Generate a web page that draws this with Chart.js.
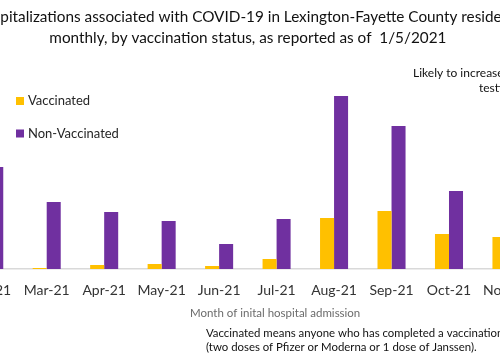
<!DOCTYPE html>
<html><head><meta charset="utf-8">
<script src="https://cdn.jsdelivr.net/npm/chart.js@4.4.1/dist/chart.umd.min.js"></script>
<style>
html,body{margin:0;padding:0;width:500px;height:355px;overflow:hidden;background:#fff;}
#wrap{position:absolute;left:-40px;top:0;width:576px;height:355px;}
</style></head><body>
<div id="wrap"><canvas id="c" width="576" height="355"></canvas></div>
<script>
// ---- data ----
const months = ['Feb-21','Mar-21','Apr-21','May-21','Jun-21','Jul-21','Aug-21','Sep-21','Oct-21','Nov-21'];
const vaccinated    = [null, 1, 4, 5, 3, 10, 51, 58, 35, 32];
const nonVaccinated = [102, 67, 57, 48, 25, 50, 173, 143, 78, null];
const seriesNames = ['Vaccinated', 'Non-Vaccinated'];
const titleLines = ['Hospitalizations associated with COVID-19 in Lexington-Fayette County residents',
                    'monthly, by vaccination status, as reported as of  1/5/2021'];
const axisTitle = 'Month of inital hospital admission';
const noteLines = ['Vaccinated means anyone who has completed a vaccination series',
                   '(two doses of Pfizer or Moderna or 1 dose of Janssen).'];
const annotationLines = ['Likely to increase due to delayed', 'testing and reporting'];

const FONT = 'Lato, "Open Sans", sans-serif';
const OFF = 40; // canvas is shifted 40px to the left of the page

const overlay = {
  id: 'overlay',
  afterDraw(chart) {
    const ctx = chart.ctx;
    ctx.save();
    // legend (vertical, inside plot)
    chart.data.datasets.forEach((ds, i) => {
      const y = 97 + i * 32.5;
      ctx.fillStyle = ds.backgroundColor;
      ctx.fillRect(16 + OFF, y, 8, 8);
      ctx.fillStyle = '#262626';
      ctx.font = '13px ' + FONT;
      ctx.textBaseline = 'middle';
      ctx.textAlign = 'left';
      ctx.fillText(ds.label, 28 + OFF, y + 4);
    });
    // axis title
    ctx.fillStyle = '#6b6b6b';
    ctx.font = '11.5px ' + FONT;
    ctx.textBaseline = 'alphabetic';
    ctx.textAlign = 'left';
    ctx.fillText(axisTitle, 190 + OFF, 316.5);
    // note
    ctx.fillStyle = '#111';
    ctx.font = '11.4px ' + FONT;
    ctx.fillText(noteLines[0], 206 + OFF, 336.5);
    ctx.fillText(noteLines[1], 206 + OFF, 351);
    // annotation top right
    ctx.font = '12px ' + FONT;
    ctx.fillText(annotationLines[0], 413 + OFF, 76.5);
    ctx.fillText(annotationLines[1], 479 + OFF, 92);
    ctx.restore();
  }
};

new Chart(document.getElementById('c'), {
  type: 'bar',
  data: {
    labels: months,
    datasets: [
      { label: seriesNames[0], data: vaccinated, backgroundColor: '#FFC000' },
      { label: seriesNames[1], data: nonVaccinated, backgroundColor: '#7030A0' }
    ]
  },
  options: {
    responsive: false,
    animation: false,
    devicePixelRatio: 1,
    layout: { padding: { left: 0.5, right: 0.8, top: 0, bottom: 0 } },
    datasets: { bar: { categoryPercentage: 0.488, barPercentage: 1.0 } },
    plugins: {
      legend: { display: false },
      tooltip: { enabled: false },
      title: {
        display: true,
        text: titleLines,
        color: '#111',
        font: { family: FONT, size: 15.3, weight: 'normal', lineHeight: 1.405 },
        padding: { top: 6, bottom: 20 }
      }
    },
    scales: {
      x: {
        grid: { display: false },
        border: { display: true, color: '#d9d9d9', width: 1.5 },
        ticks: { color: '#333', font: { family: FONT, size: 14 }, padding: 5, maxRotation: 0, autoSkip: false },
        afterFit(scale) { scale.height = 86; }
      },
      y: {
        display: false,
        min: 0,
        max: 200
      }
    }
  },
  plugins: [overlay]
});
</script>
</body></html>
